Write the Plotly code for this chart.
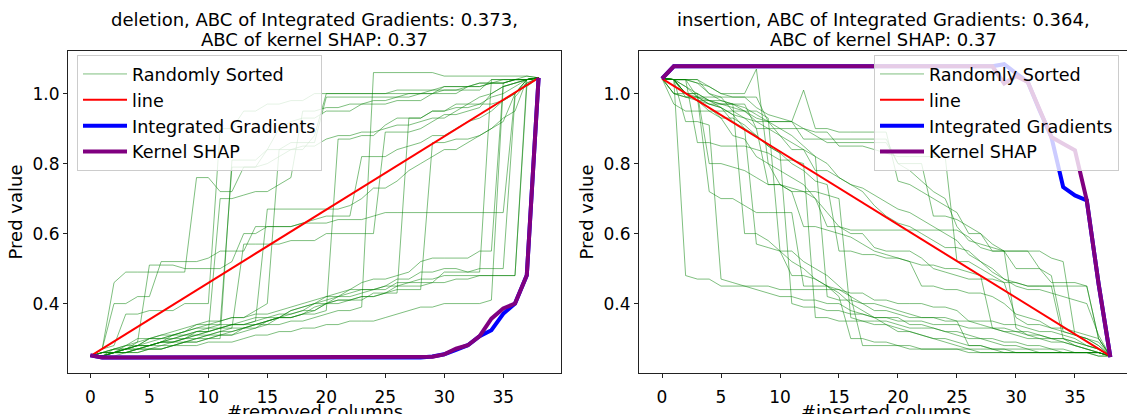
import plotly.graph_objects as go

# ---------------- data ----------------
x_cols = list(range(39))
line_x = [0, 38]

# deletion panel
del_line_y = [0.25, 1.045]
del_ig = [0.252, 0.246, 0.246, 0.246, 0.246, 0.246, 0.246, 0.246, 0.246, 0.246,
          0.246, 0.246, 0.246, 0.246, 0.246, 0.246, 0.246, 0.246, 0.246, 0.246,
          0.246, 0.246, 0.246, 0.246, 0.246, 0.246, 0.246, 0.246, 0.246, 0.249,
          0.255, 0.268, 0.281, 0.307, 0.324, 0.371, 0.400, 0.481, 1.045]
del_shap = [0.252, 0.246, 0.246, 0.246, 0.246, 0.246, 0.246, 0.246, 0.246, 0.246,
            0.246, 0.246, 0.246, 0.246, 0.246, 0.246, 0.246, 0.246, 0.246, 0.246,
            0.246, 0.246, 0.246, 0.246, 0.246, 0.246, 0.246, 0.246, 0.246, 0.248,
            0.255, 0.271, 0.281, 0.307, 0.357, 0.386, 0.400, 0.481, 1.045]

del_01 = [0.25,0.27,0.46,0.49,0.49,0.49,0.49,0.49,0.49,0.76, 0.76,0.72,0.72,0.79,0.79,0.84,0.84,0.86,0.86,0.86, 0.99,0.99,0.99,0.99,0.99,0.99,0.99,1.0,1.0,1.0, 1.01,1.01,1.01,1.01,1.04,1.04,1.04,1.04,1.045]
del_02 = [0.25,0.26,0.26,0.27,0.29,0.51,0.51,0.51,0.50,0.50, 0.50,0.50,0.52,0.60,0.60,0.62,0.62,0.62,0.63,0.63, 0.63,0.64,0.64,0.64,0.65,0.66,0.66,0.66,0.66,0.66, 0.66,0.66,0.66,0.66,0.66,0.66,1.0,1.03,1.045]
del_03 = [0.25,0.25,0.26,0.26,0.27,0.27,0.28,0.28,0.29,0.29, 0.30,0.30,0.81,0.81,0.81,0.84,0.90,0.92,0.93,0.93, 0.95,0.95,0.95,0.97,0.97,0.97,0.98,0.98,0.98,1.0, 1.0,1.0,1.02,1.02,1.03,1.03,1.04,1.04,1.045]
del_04 = [0.25,0.25,0.27,0.27,0.28,0.30,0.30,0.31,0.32,0.33, 0.33,0.34,0.34,0.35,0.36,0.36,0.37,0.37,0.38,0.38, 0.40,0.41,0.41,0.42,0.42,0.43,0.45,0.45,0.45,0.46, 0.46,0.47,0.47,0.48,0.48,0.48,0.48,1.02,1.045]
del_05 = [0.25,0.26,0.26,0.27,0.28,0.28,0.29,0.30,0.31,0.32, 0.33,0.33,0.34,0.34,0.35,0.67,0.67,0.67,0.67,0.67, 0.67,0.67,0.68,0.70,0.73,0.73,0.75,0.78,0.80,0.82, 0.84,0.84,0.86,0.88,0.90,0.92,1.0,1.04,1.045]
del_06 = [0.25,0.25,0.26,0.26,0.26,0.27,0.27,0.28,0.29,0.30, 0.30,0.31,0.31,0.32,0.33,0.34,0.34,0.35,0.35,0.36, 0.37,0.38,0.38,0.39,1.06,1.06,1.06,1.06,1.06,1.06, 1.05,1.05,1.05,1.05,1.05,1.05,1.05,1.05,1.045]
del_07 = [0.25,0.26,0.27,0.28,0.28,0.30,0.30,0.31,0.31,0.32, 0.32,0.33,0.34,0.34,0.35,0.36,0.36,0.37,0.38,0.40, 0.42,0.42,0.44,0.44,0.44,0.45,0.47,0.47,0.49,0.49, 0.50,0.50,0.49,0.49,1.04,1.04,1.04,1.04,1.045]
del_08 = [0.25,0.26,0.26,0.26,0.27,0.28,0.28,0.29,0.30,0.30, 0.31,0.32,0.33,0.33,0.34,0.35,0.36,0.36,0.37,0.37, 0.38,0.87,0.87,0.88,0.88,0.91,0.93,0.93,0.93,0.95, 0.95,0.97,0.97,0.97,0.99,1.0,1.02,1.04,1.045]
del_09 = [0.25,0.25,0.26,0.27,0.27,0.28,0.29,0.29,0.30,0.31, 0.32,0.33,0.33,0.57,0.57,0.57,0.57,0.58,0.58,0.58, 0.60,0.60,0.60,0.60,0.60,0.89,0.89,0.89,0.90,0.92, 0.94,0.94,0.95,0.96,1.0,1.02,1.03,1.04,1.045]
del_10 = [0.25,0.25,0.26,0.26,0.27,0.28,0.29,0.29,0.29,0.30, 0.31,0.31,0.32,0.33,0.34,0.34,0.36,0.36,0.37,0.38, 0.40,0.40,0.41,0.41,0.43,0.43,0.44,0.44,0.44,0.86, 0.86,0.87,0.87,0.88,0.90,0.93,0.95,1.04,1.045]
del_11 = [0.25,0.27,0.28,0.37,0.37,0.38,0.38,0.38,0.40,0.40, 0.40,0.90,0.90,0.95,0.95,0.97,0.97,0.98,0.98,1.0, 1.0,1.0,1.0,1.0,1.0,1.0,1.01,1.01,1.01,1.01, 1.02,1.02,1.02,1.03,1.03,1.04,1.04,1.04,1.045]
del_12 = [0.25,0.25,0.25,0.26,0.26,0.27,0.27,0.28,0.29,0.29, 0.30,0.31,0.31,0.33,0.33,0.35,0.36,0.38,0.39,0.40, 0.41,0.42,0.42,0.43,0.44,0.44,0.46,0.46,0.47,0.47, 0.48,0.48,0.48,0.48,0.48,0.48,0.48,1.04,1.045]
del_13 = [0.25,0.26,0.27,0.27,0.28,0.28,0.29,0.30,0.30,0.32, 0.32,0.33,0.34,0.34,0.34,0.35,0.36,0.36,0.37,0.39, 0.40,0.41,0.41,0.42,0.42,0.43,0.43,0.93,0.93,0.95, 0.95,0.96,0.96,0.97,0.97,0.98,1.0,1.04,1.045]
del_14 = [0.25,0.25,0.26,0.28,0.30,0.30,0.31,0.32,0.33,0.34, 0.34,0.35,0.36,0.36,0.38,0.40,0.84,0.84,0.85,0.85, 0.87,0.88,0.88,0.89,0.89,0.90,0.91,0.91,0.92,0.93, 0.93,0.95,0.97,0.99,1.0,1.02,1.03,1.04,1.045]
del_15 = [0.25,0.25,0.26,0.26,0.27,0.27,0.27,0.28,0.28,0.28, 0.29,0.29,0.29,0.30,0.31,0.31,0.32,0.32,0.33,0.33, 0.34,0.34,0.35,0.35,0.35,0.36,0.37,0.38,0.39,0.39, 0.40,0.40,0.40,0.40,0.41,1.02,1.03,1.04,1.045]
del_16 = [0.25,0.26,0.27,0.28,0.29,0.30,0.31,0.31,0.32,0.33, 0.34,0.34,0.79,0.79,0.79,0.80,0.82,0.84,0.84,0.88, 1.0,1.0,1.0,1.0,1.0,1.0,1.0,1.0,1.0,1.01, 1.01,1.01,1.02,1.02,1.03,1.03,1.04,1.05,1.045]
del_17 = [0.25,0.25,0.26,0.27,0.27,0.28,0.29,0.29,0.30,0.31, 0.31,0.32,0.32,0.33,0.34,0.35,0.36,0.38,0.39,0.40, 0.40,0.42,0.43,0.44,0.44,0.45,0.45,0.46,0.46,0.46, 0.49,0.49,0.49,0.50,0.50,0.50,0.99,1.03,1.045]
del_18 = [0.25,0.27,0.40,0.40,0.42,0.42,0.52,0.52,0.52,0.52, 0.53,0.55,0.55,0.55,0.62,0.62,0.62,0.62,0.63,0.64, 0.65,0.65,0.65,0.82,0.82,0.82,0.84,0.85,0.86,0.88, 0.88,0.90,0.92,0.93,0.95,0.98,1.0,1.04,1.045]
del_19 = [0.25,0.26,0.26,0.27,0.28,0.28,0.29,0.31,0.32,0.34, 0.35,0.35,0.36,0.36,0.37,0.37,0.38,0.39,0.40,0.41, 0.42,0.43,0.44,0.46,0.47,0.47,0.48,0.49,0.52,0.53, 0.53,0.53,0.53,0.55,0.55,1.03,1.04,1.04,1.045]
del_20 = [0.25,0.25,0.26,0.27,0.28,0.29,0.30,0.30,0.31,0.31, 0.32,0.70,0.70,0.71,0.72,0.72,0.74,0.76,0.95,0.95, 0.96,0.96,0.97,0.97,0.98,0.98,0.99,0.99,1.0,1.0, 1.02,1.02,1.02,1.03,1.03,1.03,1.04,1.04,1.045]

# insertion panel
ins_line_y = [1.043, 0.25]
ins_ig = [1.043, 1.078, 1.078, 1.078, 1.078, 1.078, 1.078, 1.078, 1.078, 1.078,
          1.078, 1.078, 1.078, 1.078, 1.078, 1.078, 1.078, 1.078, 1.078, 1.078,
          1.078, 1.078, 1.078, 1.078, 1.078, 1.078, 1.078, 1.078, 1.078, 1.084,
          1.060, 1.033, 0.952, 0.876, 0.733, 0.709, 0.695, 0.457, 0.247]
ins_shap = [1.043, 1.078, 1.078, 1.078, 1.078, 1.078, 1.078, 1.078, 1.078, 1.078,
            1.078, 1.078, 1.078, 1.078, 1.078, 1.078, 1.078, 1.078, 1.078, 1.078,
            1.078, 1.078, 1.078, 1.078, 1.078, 1.078, 1.078, 1.078, 1.078, 1.029,
            1.050, 1.033, 0.952, 0.876, 0.857, 0.838, 0.695, 0.457, 0.247]

ins_01 = [1.043,1.04,0.48,0.47,0.47,0.45,0.45,0.45,0.45,0.45, 0.44,0.44,0.44,0.44,0.44,0.44,0.42,0.40,0.38,0.38, 0.37,0.36,0.36,0.36,0.36,0.35,0.35,0.34,0.33,0.33, 0.32,0.32,0.31,0.30,0.30,0.29,0.28,0.27,0.25]
ins_02 = [1.043,1.04,1.0,0.99,0.72,0.70,0.70,0.68,0.66,0.66, 0.66,0.66,0.45,0.45,0.45,0.44,0.43,0.43,0.41,0.41, 0.40,0.40,0.40,0.39,0.39,0.38,0.35,0.35,0.35,0.34, 0.34,0.33,0.32,0.32,0.31,0.30,0.28,0.27,0.25]
ins_03 = [1.043,1.04,1.04,1.04,1.02,1.0,1.0,1.0,1.07,0.80, 0.74,0.72,0.72,0.70,0.66,0.62,0.60,0.60,0.56,0.55, 0.55,0.55,0.53,0.50,0.49,0.48,0.47,0.47,0.47,0.46, 0.46,0.45,0.45,0.45,0.45,0.45,0.45,0.30,0.25]
ins_04 = [1.043,1.0,0.99,0.99,0.98,0.97,0.97,0.95,0.92,0.92, 0.92,0.92,1.01,0.90,0.90,0.89,0.89,0.89,0.89,0.89, 0.75,0.74,0.72,0.70,0.68,0.66,0.60,0.60,0.55,0.55, 0.55,0.55,0.55,0.53,0.52,0.31,0.30,0.28,0.25]
ins_05 = [1.043,1.04,1.04,1.03,1.02,1.0,0.99,0.99,0.96,0.94, 0.93,0.92,0.90,0.88,0.86,0.86,0.86,0.86,0.86,0.86, 0.80,0.80,0.80,0.65,0.65,0.64,0.62,0.60,0.57,0.55, 0.50,0.50,0.50,0.46,0.46,0.46,0.45,0.30,0.25]
ins_06 = [1.043,0.97,0.95,0.95,0.95,0.95,0.95,0.95,0.95,0.93, 0.55,0.52,0.50,0.47,0.45,0.43,0.40,0.38,0.36,0.36, 0.36,0.34,0.34,0.33,0.32,0.32,0.31,0.30,0.30,0.29, 0.29,0.28,0.28,0.27,0.27,0.26,0.26,0.26,0.25]
ins_07 = [1.043,1.04,1.0,0.98,0.96,0.93,0.88,0.87,0.82,0.80, 0.78,0.76,0.74,0.70,0.62,0.62,0.61,0.61,0.61,0.61, 0.61,0.61,0.61,0.61,0.61,0.61,0.59,0.56,0.55,0.55, 0.33,0.31,0.30,0.30,0.29,0.28,0.27,0.26,0.25]
ins_08 = [1.043,1.04,1.04,0.86,0.86,0.85,0.85,0.85,0.84,0.83, 0.81,0.81,0.80,0.36,0.36,0.35,0.35,0.35,0.34,0.34, 0.32,0.32,0.31,0.30,0.29,0.28,0.27,0.27,0.27,0.26, 0.26,0.26,0.26,0.26,0.26,0.26,0.26,0.25,0.25]
ins_09 = [1.043,1.04,1.0,1.0,0.98,0.98,0.97,0.97,0.90,0.90, 0.90,0.90,0.90,0.89,0.89,0.85,0.85,0.85,0.84,0.83, 0.82,0.82,0.82,0.82,0.82,0.52,0.52,0.50,0.48,0.46, 0.36,0.34,0.34,0.33,0.33,0.32,0.31,0.30,0.25]
ins_10 = [1.043,1.04,0.92,0.92,0.91,0.47,0.46,0.45,0.44,0.43, 0.42,0.42,0.41,0.41,0.40,0.40,0.38,0.37,0.36,0.34, 0.33,0.32,0.31,0.30,0.30,0.29,0.28,0.28,0.27,0.27, 0.26,0.26,0.26,0.26,0.26,0.26,0.26,0.26,0.25]
ins_11 = [1.043,1.04,1.04,0.99,0.99,0.99,0.95,0.93,0.92,0.90, 0.88,0.84,0.84,0.78,0.78,0.76,0.74,0.73,0.71,0.69, 0.67,0.66,0.64,0.62,0.60,0.58,0.54,0.52,0.49,0.47, 0.45,0.44,0.44,0.43,0.42,0.41,0.40,0.31,0.25]
ins_12 = [1.043,1.0,1.0,0.98,0.98,0.97,0.97,0.60,0.60,0.58, 0.55,0.48,0.48,0.47,0.45,0.42,0.30,0.30,0.29,0.29, 0.28,0.28,0.27,0.27,0.27,0.27,0.26,0.26,0.26,0.26, 0.26,0.26,0.26,0.26,0.26,0.26,0.26,0.26,0.25]
ins_13 = [1.043,1.04,1.04,1.04,1.0,0.99,0.99,0.99,0.99,0.92, 0.92,0.92,0.87,0.87,0.87,0.87,0.87,0.87,0.87,0.87, 0.80,0.78,0.75,0.72,0.70,0.62,0.58,0.57,0.56,0.55, 0.55,0.55,0.50,0.48,0.32,0.31,0.30,0.28,0.25]
ins_14 = [1.043,1.04,1.02,0.99,0.97,0.96,0.92,0.90,0.88,0.85, 0.83,0.40,0.39,0.39,0.38,0.38,0.37,0.37,0.36,0.36, 0.35,0.35,0.35,0.34,0.34,0.34,0.33,0.33,0.33,0.32, 0.32,0.31,0.31,0.30,0.30,0.28,0.27,0.26,0.25]
ins_15 = [1.043,1.0,0.99,0.98,0.97,0.96,0.94,0.93,0.90,0.74, 0.74,0.73,0.72,0.72,0.71,0.70,0.36,0.35,0.35,0.35, 0.34,0.33,0.33,0.33,0.32,0.31,0.30,0.30,0.29,0.28, 0.28,0.27,0.27,0.27,0.26,0.26,0.26,0.26,0.25]
ins_16 = [1.043,1.04,1.0,0.98,0.95,0.93,0.93,0.91,0.88,0.85, 0.83,0.80,0.78,0.75,0.74,0.55,0.55,0.54,0.54,0.53, 0.53,0.52,0.51,0.51,0.50,0.50,0.49,0.48,0.33,0.32, 0.31,0.30,0.30,0.29,0.29,0.28,0.27,0.26,0.25]
ins_17 = [1.043,1.04,1.04,1.03,1.0,0.98,0.97,0.96,0.94,0.92, 0.88,0.86,0.84,0.82,0.42,0.41,0.41,0.40,0.40,0.39, 0.38,0.37,0.36,0.36,0.35,0.35,0.28,0.28,0.27,0.27, 0.27,0.27,0.26,0.26,0.26,0.26,0.26,0.25,0.25]
ins_18 = [1.043,1.04,0.99,0.99,0.97,0.97,0.96,0.95,0.93,0.92, 0.90,0.88,0.85,0.82,0.80,0.76,0.74,0.72,0.68,0.65, 0.63,0.62,0.60,0.58,0.56,0.56,0.55,0.52,0.50,0.47, 0.46,0.45,0.45,0.45,0.30,0.29,0.28,0.27,0.25]
ins_19 = [1.043,1.04,1.02,1.0,0.80,0.80,0.79,0.78,0.76,0.74, 0.74,0.72,0.62,0.62,0.61,0.60,0.59,0.57,0.55,0.54, 0.53,0.52,0.45,0.45,0.44,0.44,0.43,0.43,0.42,0.40, 0.37,0.36,0.35,0.33,0.32,0.31,0.30,0.29,0.25]
ins_20 = [1.043,1.04,1.0,1.0,0.98,0.96,0.94,0.90,0.57,0.56, 0.55,0.55,0.52,0.50,0.48,0.45,0.42,0.28,0.28,0.28, 0.28,0.27,0.27,0.27,0.27,0.27,0.27,0.26,0.26,0.26, 0.26,0.26,0.26,0.26,0.26,0.26,0.26,0.26,0.25]

deletion_runs = [del_01, del_02, del_03, del_04, del_05, del_06, del_07, del_08, del_09, del_10,
                 del_11, del_12, del_13, del_14, del_15, del_16, del_17, del_18, del_19, del_20]
insertion_runs = [ins_01, ins_02, ins_03, ins_04, ins_05, ins_06, ins_07, ins_08, ins_09, ins_10,
                  ins_11, ins_12, ins_13, ins_14, ins_15, ins_16, ins_17, ins_18, ins_19, ins_20]
for r in deletion_runs + insertion_runs + [del_ig, del_shap, ins_ig, ins_shap]:
    assert len(r) == len(x_cols), len(r)

title_lines = [["deletion, ABC of Integrated Gradients: 0.373,", "ABC of kernel SHAP: 0.37"],
               ["insertion, ABC of Integrated Gradients: 0.364,", "ABC of kernel SHAP: 0.37"]]
xlabels = ["#removed columns", "#inserted columns"]
ylabel = "Pred value"
x_ticks = [0, 5, 10, 15, 20, 25, 30, 35]
y_ticks = [0.4, 0.6, 0.8, 1.0]
y_ticktext = ["0.4", "0.6", "0.8", "1.0"]

# ---------------- styles ----------------
FONT = "DejaVu Sans"
GREEN = "rgba(0,128,0,0.5)"
RED = "#ff0000"
BLUE = "#0000ff"
PURPLE = "#800080"

fig = go.Figure()

panels = [
    (deletion_runs, del_line_y, del_ig, del_shap, "x", "y", "legend"),
    (insertion_runs, ins_line_y, ins_ig, ins_shap, "x2", "y2", "legend2"),
]
for runs, ly, ig, shap, xa, ya, lg in panels:
    for i, run in enumerate(runs):
        fig.add_trace(go.Scatter(x=x_cols, y=run, mode="lines", xaxis=xa, yaxis=ya,
                                 line=dict(color=GREEN, width=1),
                                 name="Randomly Sorted", legend=lg,
                                 showlegend=(i == 0), hoverinfo="skip"))
    fig.add_trace(go.Scatter(x=line_x, y=ly, mode="lines", xaxis=xa, yaxis=ya,
                             line=dict(color=RED, width=2), name="line", legend=lg))
    fig.add_trace(go.Scatter(x=x_cols, y=ig, mode="lines", xaxis=xa, yaxis=ya,
                             line=dict(color=BLUE, width=4), name="Integrated Gradients", legend=lg))
    fig.add_trace(go.Scatter(x=x_cols, y=shap, mode="lines", xaxis=xa, yaxis=ya,
                             line=dict(color=PURPLE, width=4), name="Kernel SHAP", legend=lg))

W, H = 1127, 414
ML, MR, MT, MB = 68, 0, 51, 41
PW = W - ML - MR
PH = H - MT - MB
d1 = [0, (561 - ML) / PW]
d2 = [(639 - ML) / PW, 1]
xr1 = [-1.9, 39.9]
xr2 = [-1.95, 39.41]

axis_common = dict(showgrid=False, zeroline=False, showline=True, linecolor="#222222",
                   linewidth=1, ticks="outside", ticklen=4, tickcolor="#222222",
                   tickfont=dict(family=FONT, size=17, color="black"))

legend_common = dict(xanchor="left", yanchor="top", itemwidth=44,
                     bgcolor="rgba(255,255,255,0.8)", bordercolor="#cccccc", borderwidth=1,
                     font=dict(family=FONT, size=17.6, color="black"))

fig.update_layout(
    width=W, height=H,
    margin=dict(l=ML, r=MR, t=MT, b=MB),
    paper_bgcolor="white", plot_bgcolor="white",
    font=dict(family=FONT, size=17, color="black"),
    xaxis=dict(domain=d1, range=xr1, tickvals=x_ticks, mirror=True,
               ticklabelstandoff=5, **axis_common),
    yaxis=dict(domain=[0, 1], range=[0.2017, 1.1217], tickvals=y_ticks,
               ticktext=y_ticktext, mirror=True,
               title=dict(text=ylabel, font=dict(size=18), standoff=5), **axis_common),
    xaxis2=dict(domain=d2, range=xr2, tickvals=x_ticks, mirror=True, anchor="y2",
                ticklabelstandoff=5, **axis_common),
    yaxis2=dict(domain=[0, 1], range=[0.2017, 1.1217], tickvals=y_ticks,
                ticktext=y_ticktext, anchor="x2", mirror=False,
                title=dict(text=ylabel, font=dict(size=18), standoff=5), **axis_common),
    legend=dict(x=(77 - ML) / PW, y=1 - (55 - MT) / PH, **legend_common),
    legend2=dict(x=(874 - ML) / PW, y=1 - (55 - MT) / PH, **legend_common),
    showlegend=True,
)

# two-line subplot titles, one annotation per line for matplotlib-like spacing
for lines, d in zip(title_lines, [d1, d2]):
    for txt, shift in zip(lines, [31.5, 12.0]):
        fig.add_annotation(text=txt, x=(d[0] + d[1]) / 2, y=1, xref="paper", yref="paper",
                           xanchor="center", yanchor="middle", yshift=shift,
                           showarrow=False, font=dict(family=FONT, size=18, color="black"))

# x-axis titles, centred on each axes box as matplotlib does (partly below the edge)
centers = [(d1[0] + d1[1]) / 2,
           d2[0] + (d2[1] - d2[0]) * ((18.95 - xr2[0]) / (xr2[1] - xr2[0]))]
for txt, cx in zip(xlabels, centers):
    fig.add_annotation(text=txt, x=cx, y=0, xref="paper", yref="paper",
                       xanchor="center", yanchor="middle", yshift=-38.5, showarrow=False,
                       font=dict(family=FONT, size=18, color="black"))

fig.write_html("out.html", config={"displayModeBar": False},
               post_script="document.body.style.margin='0px';")
